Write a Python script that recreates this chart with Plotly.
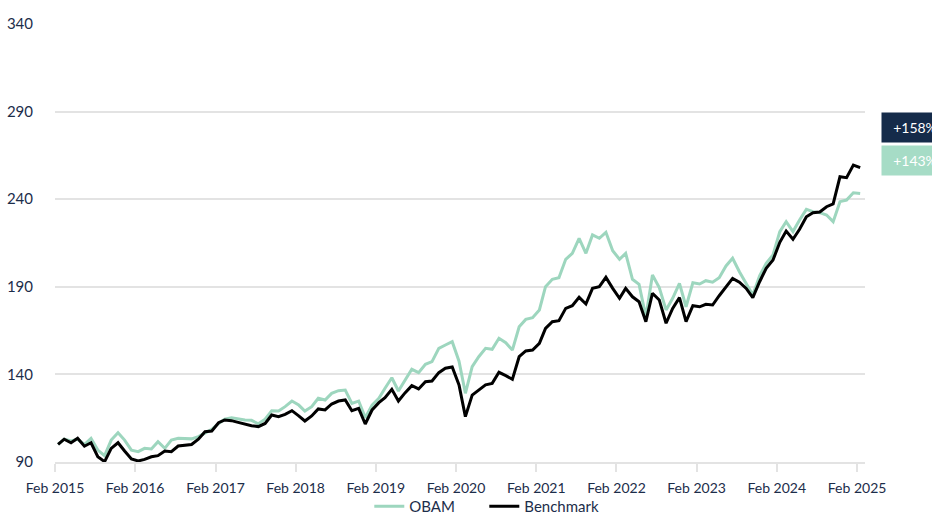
import pandas as pd
import plotly.graph_objects as go

# Monthly index values, Feb 2015 .. Feb 2025 (rebased to 100)
months = pd.date_range("2015-02-01", periods=121, freq="MS") + pd.Timedelta(days=14)

obam = [
    100, 103, 102, 103, 100, 103.5, 96.8, 93.6, 102.5, 106.7, 102.5, 96.8,
    95.9, 97.8, 97.4, 101.6, 97.8, 102.5, 103.5, 103.5, 103.2, 104.5, 106.7, 108.6,
    112, 114.4, 115.3, 114.5, 114, 113.8, 111.8, 114.4, 119.3, 119.1, 121.6, 124.8,
    122.5, 119.1, 121.6, 126.4, 125.4, 129.2, 130.7, 131.1, 123.5, 124.8, 115.3, 122.5,
    126.4, 132.1, 138.1, 130.5, 136.8, 142.9, 141, 145.8, 147.3, 154.9, 156.8, 158.7,
    147.5, 129.2, 144.4, 150.1, 154.9, 154.3, 160.6, 158.1, 153.9, 167.2, 171.4, 172.4,
    176.8, 190.1, 194.3, 195.2, 205.7, 209.1, 217.7, 209.1, 219.6, 217.7, 221.1, 210.6,
    205.7, 209.1, 194.3, 191.4, 172.9, 196.7, 189.6, 176.8, 183.4, 192, 178.6, 192.3,
    191.6, 193.5, 192.6, 195.2, 201.9, 206.3, 198.6, 192, 185.3, 196.2, 203.4, 208.2,
    221.5, 227.2, 221.5, 228.1, 234.2, 232.9, 232.3, 231, 227.2, 238.6, 239.5, 243.7,
    243.3,
]

benchmark = [
    100, 103, 101, 103.5, 99, 101, 93, 90.2, 97.8, 101, 96.3, 91.7,
    90.6, 91.5, 93, 93.6, 96.3, 95.9, 99.1, 99.7, 100, 103, 107.3, 107.7,
    112.4, 114, 113.6, 112.6, 111.5, 110.7, 110.2, 112, 116.8, 115.9, 117.2, 119.3,
    116.3, 113.4, 116.3, 120.3, 119.7, 123.1, 124.8, 125.4, 119.3, 120.6, 111.7, 119.7,
    123.9, 126.7, 131.5, 124.8, 129.6, 133.6, 131.7, 135.8, 136.2, 141, 143.5, 144.2,
    134, 115.9, 128.2, 131, 134, 134.9, 141.2, 139.3, 137.2, 150.1, 153.4, 153.9,
    157.7, 166.3, 170.1, 170.7, 177.7, 179.2, 184, 180.2, 189.1, 190.1, 195.4, 189.1,
    183.4, 189.1, 184.3, 181.5, 170.1, 186.3, 182.5, 169.2, 177.7, 183.8, 170.1, 179.2,
    178.6, 180, 179.6, 184.9, 190.1, 194.8, 192.6, 189.1, 183.8, 192.9, 200.6, 205.3,
    215.4, 221.8, 217.1, 222.8, 230, 232.3, 232.7, 235.7, 237.3, 252.8, 252.3, 259.5,
    258,
]

tick_dates = [f"{y}-02-01" for y in range(2015, 2026)]
tick_labels = [f"Feb {y}" for y in range(2015, 2026)]
y_ticks = [90, 140, 190, 240, 290, 340]

labels = ["+158%", "+143%"]

NAVY = "#152b4a"
GREEN = "#9dd6be"
TEXT = "#1c2d4a"
GRID = "#e3e3e3"

fig = go.Figure()
fig.add_trace(go.Scatter(x=months, y=obam, mode="lines", name="OBAM",
                         line=dict(color=GREEN, width=3)))
fig.add_trace(go.Scatter(x=months, y=benchmark, mode="lines", name="Benchmark",
                         line=dict(color="#000000", width=3)))

fig.update_layout(
    width=932, height=514,
    margin=dict(l=55, r=67, t=24, b=52, autoexpand=False),
    paper_bgcolor="white", plot_bgcolor="white",
    font=dict(family="Lato, sans-serif", color=TEXT, size=14),
    showlegend=True,
    legend=dict(orientation="h", x=0.53, xanchor="center", y=-0.064, yanchor="top",
                font=dict(size=15, color=TEXT), bgcolor="rgba(0,0,0,0)",
                itemwidth=30, entrywidth=70),
    xaxis=dict(
        type="date", range=["2015-02-01", "2025-03-09"],
        tickvals=tick_dates, ticktext=tick_labels,
        showgrid=False, zeroline=False,
        showline=True, linecolor=GRID, linewidth=2,
        ticks="outside", ticklen=8, tickwidth=1.5, tickcolor=GRID,
        tickfont=dict(size=14, color=TEXT), ticklabelstandoff=4,
    ),
    yaxis=dict(
        range=[90, 340], tickvals=y_ticks,
        showgrid=True, gridcolor=GRID, gridwidth=2,
        zeroline=False, showline=False, ticks="",
        tickfont=dict(size=15, color=TEXT), ticklabelstandoff=21,
    ),
)

fig.add_annotation(xref="paper", yref="paper", x=1.0198, y=0.763,
                   xanchor="left", yanchor="middle", text=labels[0], showarrow=False,
                   font=dict(size=14, color="white"), bgcolor=NAVY,
                   borderpad=5, width=56, height=19, align="center")
fig.add_annotation(xref="paper", yref="paper", x=1.0198, y=0.688,
                   xanchor="left", yanchor="middle", text=labels[1], showarrow=False,
                   font=dict(size=14, color="white"), bgcolor="#a6dcc6",
                   borderpad=5, width=56, height=19, align="center")

fig.write_html("out.html", config={"displayModeBar": False},
               post_script="document.body.style.margin='0';")
